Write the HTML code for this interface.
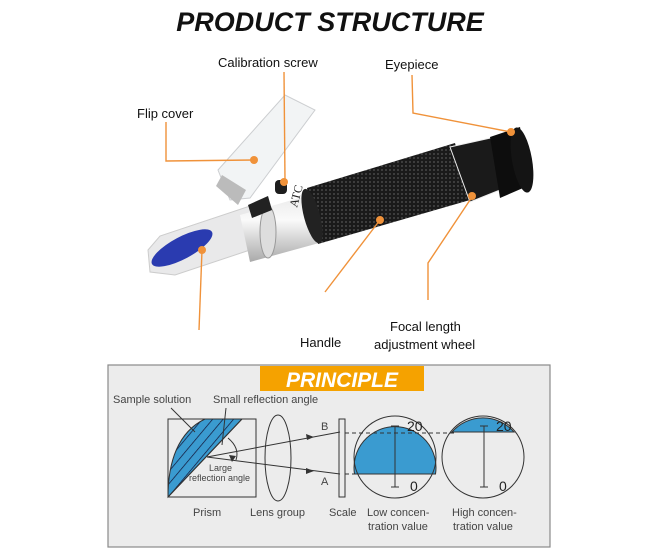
<!DOCTYPE html>
<html><head><meta charset="utf-8"><style>
html,body{margin:0;padding:0;background:#fff;}
svg{display:block;font-family:"Liberation Sans",Arial,sans-serif;}
</style></head><body>
<svg width="661" height="553" viewBox="0 0 661 553" xmlns="http://www.w3.org/2000/svg">
<defs>
<pattern id="hatch" width="8" height="8" patternUnits="userSpaceOnUse" patternTransform="rotate(40)">
<rect width="8" height="8" fill="#3a9bd0"/><line x1="0" y1="0" x2="0" y2="8" stroke="#113" stroke-width="1.4"/>
</pattern>
<linearGradient id="silver" x1="0" y1="0" x2="0" y2="1">
<stop offset="0" stop-color="#e8e8e8"/><stop offset="0.4" stop-color="#fafafa"/><stop offset="1" stop-color="#a9a9a9"/></linearGradient>
<pattern id="dots" width="4" height="4" patternUnits="userSpaceOnUse"><rect width="4" height="4" fill="#1a1a1a"/><circle cx="2" cy="2" r="0.9" fill="#555"/></pattern>
</defs>
<text x="330" y="31" text-anchor="middle" font-size="27" font-weight="bold" font-style="italic" fill="#111">PRODUCT STRUCTURE</text>

<!-- refractometer -->
<g>
<polygon points="148,250 160,236 250,206 262,246 175,275 150,272" fill="#e9e9ea" stroke="#ccc"/>
<ellipse cx="182" cy="248" rx="34" ry="11" transform="rotate(-28 182 248)" fill="#2a3bb0"/>
<polygon points="240,215 320,192 330,240 250,262" fill="url(#silver)"/>
<ellipse cx="268" cy="232" rx="8" ry="26" fill="#ddd" stroke="#999"/>
<polygon points="218,170 285,95 315,110 250,198 230,200" fill="#f1f3f5" stroke="#c7c9cc" opacity="0.9"/>
<polygon points="222,175 246,190 238,205 216,186" fill="#bbb"/>
<rect x="275" y="180" width="12" height="14" rx="4" fill="#1d1d1d"/>
<polygon points="248,205 268,196 272,210 252,218" fill="#222"/>
<polygon points="307,188 455,143 470,200 318,244" fill="url(#dots)"/>
<ellipse cx="312" cy="216" rx="8" ry="28" transform="rotate(-15 312 216)" fill="#222"/>
<text x="297" y="208" font-size="12" font-family="Liberation Serif,serif" transform="rotate(-75 297 208)" fill="#222">ATC</text>
<polygon points="450,147 495,137 500,190 470,202" fill="#1a1a1a" stroke="#eee" stroke-width="1"/>
<polygon points="490,137 520,127 530,185 500,198" fill="#0d0d0d"/>
<ellipse cx="522" cy="160" rx="10" ry="33" transform="rotate(-10 522 160)" fill="#141414"/>
</g>

<!-- callouts -->
<g stroke="#f0923a" stroke-width="1.4" fill="none">
<polyline points="166,122 166,161 254,160"/>
<polyline points="284,72 285,180"/>
<polyline points="412,75 413,113 511,132"/>
<polyline points="380,220 325,292"/>
<polyline points="472,197 428,263 428,300"/>
<polyline points="202,250 199,330"/>
</g>
<g fill="#f0923a">
<circle cx="254" cy="160" r="4"/><circle cx="284" cy="182" r="4"/><circle cx="511" cy="132" r="4"/>
<circle cx="380" cy="220" r="4"/><circle cx="472" cy="196" r="4"/><circle cx="202" cy="250" r="4"/>
</g>
<g font-size="13" fill="#111">
<text x="218" y="67">Calibration screw</text>
<text x="385" y="69">Eyepiece</text>
<text x="137" y="118">Flip cover</text>
<text x="300" y="347">Handle</text>
<text x="390" y="331">Focal length</text>
<text x="374" y="349">adjustment wheel</text>
</g>

<!-- principle -->
<rect x="108" y="365" width="442" height="182" fill="#ececec" stroke="#8a8a8a" stroke-width="1.2"/>
<rect x="260" y="366" width="164" height="25" fill="#f5a200"/>
<text x="342" y="387" text-anchor="middle" font-size="21" font-weight="bold" font-style="italic" fill="#fff">PRINCIPLE</text>
<g font-size="11" fill="#444">
<text x="113" y="403">Sample solution</text>
<text x="213" y="403">Small reflection angle</text>
<text x="321" y="430">B</text>
<text x="321" y="485">A</text>
<text x="209" y="471" font-size="9">Large</text>
<text x="189" y="481" font-size="9">reflection angle</text>
<text x="193" y="516">Prism</text>
<text x="250" y="516">Lens group</text>
<text x="329" y="516">Scale</text>
<text x="367" y="516">Low concen-</text>
<text x="368" y="530">tration value</text>
<text x="452" y="516">High concen-</text>
<text x="453" y="530">tration value</text>
</g>
<g stroke="#333" fill="none" stroke-width="1">
<rect x="168" y="419" width="88" height="78"/>
<path d="M168,497 C168,462 178,432 205,419 L242,419 Z" fill="url(#hatch)"/>
<line x1="168" y1="497" x2="242" y2="419"/>
<line x1="171" y1="408" x2="195" y2="432"/>
<line x1="226" y1="408" x2="222" y2="445"/>
<path d="M228,438 Q240,448 236,460"/>
<line x1="207" y1="457" x2="340" y2="432"/>
<line x1="207" y1="457" x2="340" y2="474"/>
<ellipse cx="278" cy="458" rx="13" ry="43"/>
<rect x="339" y="419" width="6" height="78"/>
<path d="M354.5,474 A41,41 0 1 1 435.5,474 Z" fill="#3a9bd0"/>
<circle cx="395" cy="457" r="41"/>
<line x1="354" y1="474" x2="436" y2="474"/>
<path d="M452,432 A41,41 0 0 1 514,432 Z" fill="#3a9bd0"/>
<circle cx="483" cy="457" r="41"/>
<line x1="345" y1="433" x2="455" y2="433" stroke-dasharray="4,3"/>
<line x1="345" y1="474" x2="355" y2="474" stroke-dasharray="4,3"/>
<line x1="395" y1="426" x2="395" y2="487"/><line x1="391" y1="426" x2="399" y2="426"/><line x1="391" y1="487" x2="399" y2="487"/>
<line x1="484" y1="426" x2="484" y2="487"/><line x1="480" y1="426" x2="488" y2="426"/><line x1="480" y1="487" x2="488" y2="487"/>
</g>
<polygon points="314,437 306,434 307,440" fill="#333"/>
<polygon points="314,471 306,468 306,474" fill="#333"/>
<polygon points="232,462 229,455 236,456" fill="#333"/>
<g font-size="14" fill="#222">
<text x="407" y="431">20</text><text x="410" y="491">0</text>
<text x="496" y="431">20</text><text x="499" y="491">0</text>
</g>
</svg>
</body></html>
